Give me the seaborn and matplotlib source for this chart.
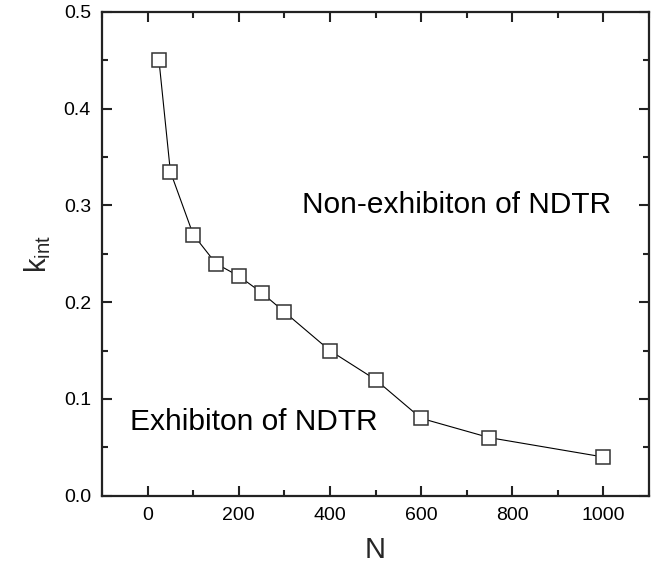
import matplotlib
matplotlib.use("Agg")
import matplotlib.pyplot as plt
import seaborn as sns
import pandas as pd
from matplotlib.ticker import MultipleLocator

N_values = [25, 50, 100, 150, 200, 250, 300, 400, 500, 600, 750, 1000]
k_int = [0.45, 0.335, 0.27, 0.24, 0.227, 0.21, 0.19, 0.15, 0.12, 0.08, 0.06, 0.04]

sns.set_style("ticks")
plt.rcParams['font.family'] = ['Liberation Sans', 'DejaVu Sans']
plt.rcParams['mathtext.default'] = 'regular'

df = pd.DataFrame({"N": N_values, "k": k_int})

fig = plt.figure(figsize=(6.65, 5.69), dpi=100)
ax = fig.add_axes([102/665, 1-495.7/569, (649-102)/665, (495.7-12)/569])

sns.lineplot(data=df, x="N", y="k", ax=ax, color="black", linewidth=0.8,
             marker="s", markersize=9.5, markerfacecolor="white",
             markeredgecolor="#333333", markeredgewidth=1.1)

ax.set_xlim(-100, 1100)
ax.set_ylim(0, 0.5)
ax.xaxis.set_minor_locator(MultipleLocator(100))
ax.yaxis.set_major_locator(MultipleLocator(0.1))
ax.yaxis.set_minor_locator(MultipleLocator(0.05))
ax.set_xticks([0, 200, 400, 600, 800, 1000])
ax.yaxis.set_major_formatter(matplotlib.ticker.FormatStrFormatter('%.1f'))

ax.tick_params(which='both', direction='in', top=True, right=True, width=1.5, colors='#222222', labelcolor='black')
ax.tick_params(which='major', length=7.5, labelsize=14, pad=8)
ax.tick_params(which='minor', length=4.5)
for s in ax.spines.values():
    s.set_linewidth(1.6)
    s.set_color('#222222')

ax.set_xlabel("N", fontsize=21, labelpad=9)
ax.set_ylabel(r"$k_{int}$", fontsize=21, labelpad=8)

ax.text(339, 0.3, "Non-exhibiton of NDTR", fontsize=21.5, ha="left", va="center", color="black")
ax.text(-38, 0.076, "Exhibiton of NDTR", fontsize=21.5, ha="left", va="center", color="black")

fig.savefig("out.png", dpi=100)
